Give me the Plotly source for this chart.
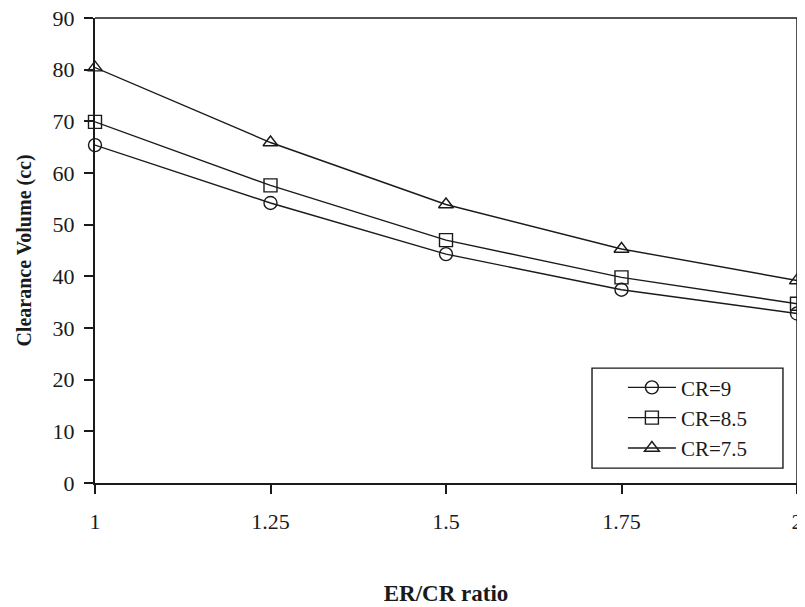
import plotly.graph_objects as go

er_cr = [1, 1.25, 1.5, 1.75, 2]
cr9 = [65.4, 54.2, 44.3, 37.4, 32.8]
cr85 = [69.9, 57.6, 47.0, 39.8, 34.7]
cr75 = [80.4, 65.9, 53.9, 45.3, 39.2]
series_names = ["CR=9", "CR=8.5", "CR=7.5"]
x_ticks = [1, 1.25, 1.5, 1.75, 2]
x_tick_labels = ["1", "1.25", "1.5", "1.75", "2"]
y_ticks = [0, 10, 20, 30, 40, 50, 60, 70, 80, 90]

font_family = "Liberation Serif, Times New Roman, serif"
symbols = ["circle-open", "square-open", "triangle-up-open"]
ink = "#1a1a1a"

fig = go.Figure()
for name, ys, sym in zip(series_names, [cr9, cr85, cr75], symbols):
    fig.add_trace(go.Scatter(
        x=er_cr, y=ys, name=name, mode="lines+markers",
        line=dict(color=ink, width=1.4),
        marker=dict(symbol=sym, size=13, color=ink, line=dict(width=1.4, color=ink)),
        cliponaxis=False,
    ))

fig.update_layout(
    width=797, height=599,
    margin=dict(l=87, r=8, t=10, b=124, autoexpand=False),
    paper_bgcolor="white", plot_bgcolor="white",
    font=dict(family=font_family, size=22, color=ink),
    showlegend=True,
    legend=dict(
        x=0.752, y=0.249, xanchor="left", yanchor="top",
        borderwidth=0, bgcolor="rgba(0,0,0,0)",
        font=dict(family=font_family, size=21, color=ink),
        tracegroupgap=0, itemwidth=48,
    ),
    xaxis=dict(
        range=[1, 2], tickvals=x_ticks, ticktext=x_tick_labels,
        showgrid=False, zeroline=False, automargin=False,
        showline=True, linecolor=ink, linewidth=2, mirror=False,
        ticks="outside", ticklen=9, tickwidth=1.5, tickcolor=ink,
        ticklabelstandoff=9, ticklabeloverflow="allow",
        title=dict(text="<b>ER/CR ratio</b>", font=dict(size=23, family=font_family, color=ink), standoff=51),
    ),
    yaxis=dict(
        range=[0, 90], tickvals=y_ticks,
        showgrid=False, zeroline=False, automargin=False,
        showline=True, linecolor=ink, linewidth=2,
        ticks="outside", ticklen=9, tickwidth=1.5, tickcolor=ink,
        ticklabelstandoff=5, ticklabeloverflow="allow",
        title=dict(text="<b>Clearance Volume (cc)</b>", font=dict(size=20, family=font_family, color=ink), standoff=16),
    ),
    shapes=[
        dict(type="line", xref="paper", yref="paper", x0=0, x1=1, y0=1, y1=1,
             line=dict(color=ink, width=1.5)),
        dict(type="line", xref="paper", yref="paper", x0=1, x1=1, y0=0, y1=1,
             line=dict(color=ink, width=1.5)),
        dict(type="rect", xref="paper", yref="paper", x0=0.708, x1=0.980, y0=0.032, y1=0.247,
             line=dict(color=ink, width=1.4), fillcolor="rgba(0,0,0,0)", layer="above"),
    ],
)

fig.write_html("out.html")
